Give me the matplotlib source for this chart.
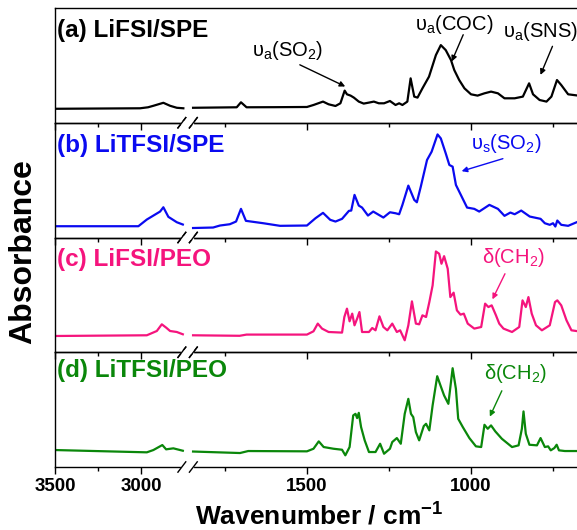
import numpy as np
import matplotlib
matplotlib.use("Agg")
from matplotlib import pyplot as plt

plt.rcParams['font.family'] = ['Liberation Sans', 'DejaVu Sans']
plt.rcParams['mathtext.default'] = 'regular'

# (a) LiFSI/SPE
a_wn = [3500, 3006, 2960, 2929, 2871, 2832, 2793, 2755,
        1847, 1714, 1701, 1684, 1600, 1500, 1480, 1451, 1434, 1413, 1398, 1385, 1378, 1367, 1357,
        1342, 1327, 1311, 1296, 1281, 1265, 1247, 1230, 1219, 1209, 1194, 1184, 1173, 1163, 1148,
        1128, 1107, 1092, 1077, 1061, 1051, 1036, 1020, 1000, 980, 959, 939, 918, 898, 867, 842,
        823, 811, 791, 770, 755, 738, 725, 704, 673]
a_abs = [14, 14.5, 15.5, 17, 20, 17, 15, 14.5,
         15.0, 15.5, 20.5, 15.5, 15.6, 15.8, 17.8, 21.2, 18.5, 16.8, 19.5, 32.2, 28.5, 27.2, 25.2,
         21.2, 19.2, 20.2, 21.2, 19.5, 19.5, 21.8, 17.8, 19.5, 17.8, 21.2, 44.5, 26.2, 25.2, 34.5,
         46.2, 67.8, 77.8, 72.8, 62.8, 52.8, 42.8, 34.5, 28.5, 27.2, 29.5, 31.2, 29.5, 24.5, 24.5, 26.2,
         39.5, 28.5, 22.8, 21.2, 26.2, 42.8, 37.8, 28.5, 27.2]

# (b) LiTFSI/SPE
b_wn = [3500, 3016, 2967, 2919, 2890, 2871, 2842, 2793, 2758,
        1847, 1786, 1765, 1735, 1716, 1701, 1686, 1633, 1582, 1500, 1474, 1451, 1429, 1413, 1393,
        1372, 1365, 1355, 1342, 1332, 1314, 1298, 1281, 1267, 1247, 1230, 1219, 1209, 1191, 1173,
        1165, 1153, 1134, 1120, 1102, 1092, 1077, 1066, 1056, 1046, 1031, 1012, 990, 975, 944, 918,
        898, 880, 867, 847, 821, 788, 775, 760, 750, 743, 737, 725, 704, 673]
b_abs = [11.3, 11.3, 18, 23, 26, 30.3, 20.7, 15.3, 13,
         9.5, 10, 12, 13.3, 16, 28.7, 16.7, 14.3, 11.7, 12, 19.3, 24.7, 17.7, 16, 18.7,
         26.7, 27, 42.7, 32, 30, 22, 26, 22.7, 20, 25.3, 24.3, 23.3, 32.7, 52, 37.7,
         35.3, 51, 77.7, 86, 103.3, 99.3, 84.3, 72.7, 71, 52.7, 42.7, 30, 28.7, 26, 32.7, 28.7,
         21.7, 25, 23.3, 27, 21, 18.7, 14.3, 12.7, 14.3, 11, 17, 12.7, 11.7, 16]

# (c) LiFSI/PEO
c_wn = [3500, 2967, 2909, 2880, 2855, 2832, 2793, 2758,
        1847, 1705, 1684, 1500, 1480, 1467, 1454, 1434, 1393, 1386, 1378, 1370, 1362, 1355, 1347,
        1340, 1332, 1311, 1301, 1291, 1279, 1267, 1255, 1240, 1226, 1216, 1202, 1191, 1180, 1168,
        1158, 1148, 1137, 1127, 1117, 1107, 1097, 1090, 1082, 1071, 1063, 1053, 1043, 1032, 1022,
        1010, 990, 969, 957, 947, 937, 924, 914, 901, 875, 853, 843, 833, 825, 815, 802, 784, 760,
        744, 737, 725, 709, 694, 673]
c_abs = [16.3, 17, 21.3, 28, 24.7, 21.3, 20.3, 18,
         17, 16.5, 17.7, 17.7, 21, 28.7, 23.7, 20.3, 19.7, 35.3, 43.7, 31, 38.7, 27, 33.7,
         40.3, 20.3, 20.3, 24.3, 22, 36, 25.3, 22, 28.7, 20.3, 22, 12, 27, 51, 28.7,
         28, 37, 35.3, 50.3, 67, 101, 98.7, 88.7, 96.3, 83.7, 55.3, 59.7, 42, 37.7, 38.7,
         28.7, 23.7, 25.3, 48.7, 45.3, 47, 37, 28.7, 23.7, 20.3, 25.3, 52, 45.3, 55.3, 38.7, 27, 22, 27,
         50.3, 52, 47, 32, 22, 21]

# (d) LiTFSI/PEO
d_wn = [3500, 2967, 2929, 2877, 2855, 2813, 2758,
        1847, 1704, 1679, 1500, 1480, 1464, 1449, 1419, 1393, 1383, 1370, 1359, 1352, 1347, 1342,
        1335, 1324, 1311, 1291, 1277, 1265, 1247, 1240, 1226, 1214, 1202, 1191, 1183, 1176, 1168,
        1158, 1144, 1137, 1127, 1117, 1103, 1093, 1082, 1069, 1056, 1046, 1039, 1025, 1005, 985,
        969, 959, 949, 939, 926, 906, 875, 855, 845, 840, 833, 822, 799, 788, 775, 765, 757, 746,
        739, 732, 714, 673]
d_abs = [17, 14.7, 17, 22, 17.7, 18.7, 16.3,
         15.5, 14, 16, 15.7, 18.3, 25.7, 20, 18.3, 17.3, 11.7, 20, 51.7, 53.3, 49, 54.3,
         40, 26.7, 15, 15, 23.3, 13.3, 18.3, 25, 29, 23.3, 53.3, 68.3, 53.3, 50, 35,
         26.7, 41, 43.3, 36.7, 61.7, 91, 81.7, 71.7, 63.3, 99, 78.3, 48.3, 40, 29, 20.7,
         20, 42.3, 38.3, 41.7, 35.7, 28.3, 20, 21.7, 38.3, 55.7, 33.3, 22.3, 21.7, 29, 20, 20.7, 16.7, 19,
         22.3, 16.7, 16, 16]

labels = ['(a) LiFSI/SPE', '(b) LiTFSI/SPE', '(c) LiFSI/PEO', '(d) LiTFSI/PEO']
colors = ['black', '#0a0af0', '#f5147d', '#0a870a']
series = [(a_wn, a_abs), (b_wn, b_abs), (c_wn, c_abs), (d_wn, d_abs)]

# broken x axis: 3500-2750 compressed, gap, 1850-675
A, B, GAP, K = 2750.0, 1850.0, 24.0, 0.525

def fwd(w):
	w = np.asarray(w, dtype=float)
	return np.where(w <= B, w, np.where(w <= A, B + (w - B) * GAP / (A - B), B + GAP + (w - A) * K))

def inv(u):
	u = np.asarray(u, dtype=float)
	return np.where(u <= B, u, np.where(u <= B + GAP, B + (u - B) * (A - B) / GAP, A + (u - B - GAP) / K))

W, H = 577, 530
fig = plt.figure(figsize=(W / 100, H / 100), dpi=100)
top_px, bot_px = 8, 467
ph = (bot_px - top_px) / 4
left = 55 / W

axes = []
for i in range(4):
	y0 = 1 - (top_px + ph * (i + 1)) / H
	ax = fig.add_axes([left, y0, 1 - left, ph / H])
	ax.patch.set_visible(False)
	ax.set_xscale('function', functions=(fwd, inv))
	wn = np.array(series[i][0])
	ab = np.array(series[i][1])
	hi = wn > 2000
	ax.plot(wn[hi], ab[hi], color=colors[i], lw=1.6, solid_joinstyle='round')
	ax.plot(wn[~hi], ab[~hi], color=colors[i], lw=1.6, solid_joinstyle='round')
	ax.set_xlim(3500, 677)
	ax.set_ylim(0, 115)
	ax.set_yticks([])
	ax.set_xticks([3500, 3000, 1500, 1000])
	ax.set_xticks([3250, 1750, 1250, 750], minor=True)
	ax.tick_params(axis='x', which='major', direction='out', length=5, width=1, pad=3)
	ax.tick_params(axis='x', which='minor', direction='out', length=3, width=1)
	ax.spines['right'].set_visible(False)
	for s in ['left', 'top', 'bottom']:
		ax.spines[s].set_linewidth(1.0)
	if i < 3:
		ax.tick_params(axis='x', labelbottom=False)
	else:
		for lab in ax.get_xticklabels():
			lab.set_fontweight('bold')
			lab.set_fontsize(13.5)
	ax.text(0.004, [0.80, 0.80, 0.81, 0.84][i], labels[i], transform=ax.transAxes,
		color=colors[i], fontsize=17.5, fontweight='bold', ha='left', va='center')
	# break marks
	ys = [0] if i == 0 else [0, 1]
	for yb in ys:
		ax.plot([0.245, 0.263], [yb, yb], transform=ax.transAxes, color='white', lw=3, clip_on=False, zorder=5)
		for xb in [0.243, 0.265]:
			ax.plot([xb - 0.0075, xb + 0.0075], [yb - 0.045, yb + 0.045], transform=ax.transAxes,
				color='black', lw=1, clip_on=False, zorder=6)
	axes.append(ax)

arrow = dict(arrowstyle='-|>', lw=1, mutation_scale=8, shrinkA=0, shrinkB=0)

ax = axes[0]
ax.text(0.446, 0.633, 'υ$_a$(SO$_2$)', transform=ax.transAxes, fontsize=14.5, ha='center', va='center')
ax.annotate('', xy=(0.556, 0.316), xytext=(0.469, 0.505), xycoords='axes fraction',
	arrowprops=dict(arrow, color='black'))
ax.text(0.764, 0.854, 'υ$_a$(COC)', transform=ax.transAxes, fontsize=14.5, ha='center', va='center')
ax.annotate('', xy=(0.760, 0.534), xytext=(0.782, 0.767), xycoords='axes fraction',
	arrowprops=dict(arrow, color='black'))
ax.text(0.858, 0.799, 'υ$_a$(SNS)', transform=ax.transAxes, fontsize=14.5, ha='left', va='center')
ax.annotate('', xy=(0.930, 0.417), xytext=(0.953, 0.666), xycoords='axes fraction',
	arrowprops=dict(arrow, color='black'))

ax = axes[1]
ax.text(0.865, 0.816, 'υ$_s$(SO$_2$)', transform=ax.transAxes, fontsize=14.5, ha='center', va='center', color=colors[1])
ax.annotate('', xy=(0.779, 0.578), xytext=(0.858, 0.687), xycoords='axes fraction',
	arrowprops=dict(arrow, color=colors[1]))

ax = axes[2]
ax.text(0.878, 0.829, 'δ(CH$_2$)', transform=ax.transAxes, fontsize=14.5, ha='center', va='center', color=colors[2])
ax.annotate('', xy=(0.838, 0.461), xytext=(0.862, 0.684), xycoords='axes fraction',
	arrowprops=dict(arrow, color=colors[2]))

ax = axes[3]
ax.text(0.882, 0.818, 'δ(CH$_2$)', transform=ax.transAxes, fontsize=14.5, ha='center', va='center', color=colors[3])
ax.annotate('', xy=(0.833, 0.439), xytext=(0.856, 0.664), xycoords='axes fraction',
	arrowprops=dict(arrow, color=colors[3]))

fig.text(23 / W, 1 - 252 / H, 'Absorbance', rotation=90, fontsize=23, fontweight='bold', ha='center', va='center')
fig.text(319 / W, 1 - 516 / H, 'Wavenumber / cm$^{-1}$', fontsize=19, fontweight='bold', ha='center', va='center')

plt.savefig('out.png', dpi=100)
